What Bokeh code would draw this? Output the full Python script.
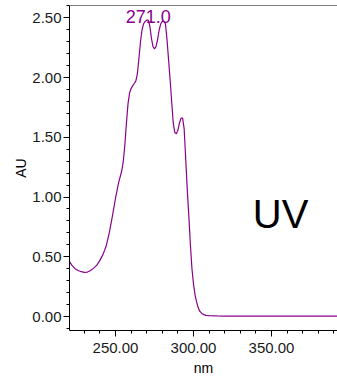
from bokeh.plotting import figure
from bokeh.models import (SingleIntervalTicker, NumeralTickFormatter,
                          Range1d, Label, Span, ColumnDataSource)
from bokeh.embed import file_html
from bokeh.resources import INLINE

# ---- data ----
wavelength_nm = [220, 222, 224, 226, 228, 230, 232, 234, 236, 238, 240, 242, 244, 246,
                 248, 250, 252, 254, 255, 256, 257, 258, 259, 260, 261, 262, 263, 264,
                 265, 266, 267, 268, 269, 270, 271, 272, 273, 274, 275, 276, 277, 278,
                 279, 280, 281, 282, 283, 284, 285, 286, 287, 288, 289, 290, 291, 292,
                 293, 294, 295, 296, 297, 298, 299, 300, 301, 302, 303, 304, 305, 306,
                 307, 308, 310, 315, 320, 340, 360, 380, 395]
absorbance_au = [0.47, 0.43, 0.40, 0.385, 0.375, 0.37, 0.372, 0.385, 0.405, 0.43, 0.47,
                 0.52, 0.59, 0.70, 0.84, 0.99, 1.12, 1.22, 1.30, 1.44, 1.62, 1.78, 1.87,
                 1.91, 1.93, 1.95, 1.97, 2.03, 2.16, 2.30, 2.40, 2.45, 2.47, 2.48, 2.48,
                 2.43, 2.33, 2.26, 2.24, 2.26, 2.32, 2.40, 2.45, 2.47, 2.47, 2.45, 2.32,
                 2.15, 1.98, 1.80, 1.62, 1.54, 1.53, 1.56, 1.62, 1.66, 1.66, 1.57, 1.32,
                 1.06, 0.84, 0.60, 0.40, 0.27, 0.18, 0.12, 0.075, 0.045, 0.03, 0.02,
                 0.014, 0.01, 0.007, 0.005, 0.004, 0.004, 0.004, 0.004, 0.004]
peak_label_nm = 271.0
peak_label_text = "271.0"
panel_text = "UV"
x_label = "nm"
y_label = "AU"

LINE = "#8B008B"
FONT = "Liberation Sans"
Y_END = 2.603

p = figure(width=337, height=384, output_backend="svg", toolbar_location=None,
           x_range=Range1d(220.5, 392.3), y_range=Range1d(-0.117, Y_END),
           min_border_left=69, min_border_right=0, min_border_top=5,
           min_border_bottom=54, x_axis_location="below", y_axis_location="left")
p.outline_line_color = None
p.grid.visible = False
p.background_fill_color = "white"
p.border_fill_color = "white"

src = ColumnDataSource(dict(x=wavelength_nm, y=absorbance_au))
p.line("x", "y", source=src, line_color=LINE, line_width=1.2)

# axes
for ax, tick_int, lab in ((p.xaxis[0], 50, x_label), (p.yaxis[0], 0.5, y_label)):
    ax.ticker = SingleIntervalTicker(interval=tick_int, num_minor_ticks=5)
    ax.formatter = NumeralTickFormatter(format="0.00")
    ax.axis_label = lab
    ax.axis_label_text_font = FONT
    ax.axis_label_text_font_style = "normal"
    ax.axis_label_text_font_size = "14px"
    ax.axis_label_text_color = "#000000"
    ax.major_label_text_font = FONT
    ax.major_label_text_font_size = "15px"
    ax.major_label_text_color = "#1a1a1a"
    ax.axis_line_color = "#000000"
    ax.major_tick_line_color = "#000000"
    ax.minor_tick_line_color = "#000000"
    ax.major_tick_out = 6
    ax.major_tick_in = 0
    ax.minor_tick_out = 3
    ax.minor_tick_in = 0
p.yaxis[0].major_label_standoff = 2
p.yaxis[0].axis_label_standoff = 0
p.xaxis[0].major_label_standoff = 6
p.xaxis[0].axis_label_standoff = 4

# top border line
p.add_layout(Span(location=Y_END, dimension="width", line_color="#000000",
                  line_width=1))

# peak label
peak_y = max(absorbance_au)
p.add_layout(Label(x=peak_label_nm, y=peak_y, text=peak_label_text,
                   text_align="center", text_baseline="alphabetic",
                   text_font=FONT, text_font_size="18px", text_color=LINE,
                   y_offset=4))
# panel label
p.add_layout(Label(x=338, y=0.745, text=panel_text, text_align="left",
                   text_baseline="alphabetic", text_font=FONT,
                   text_font_size="40px", text_color="#000000",
                   y_offset=14))

open("out.html", "w").write(file_html(p, INLINE))
